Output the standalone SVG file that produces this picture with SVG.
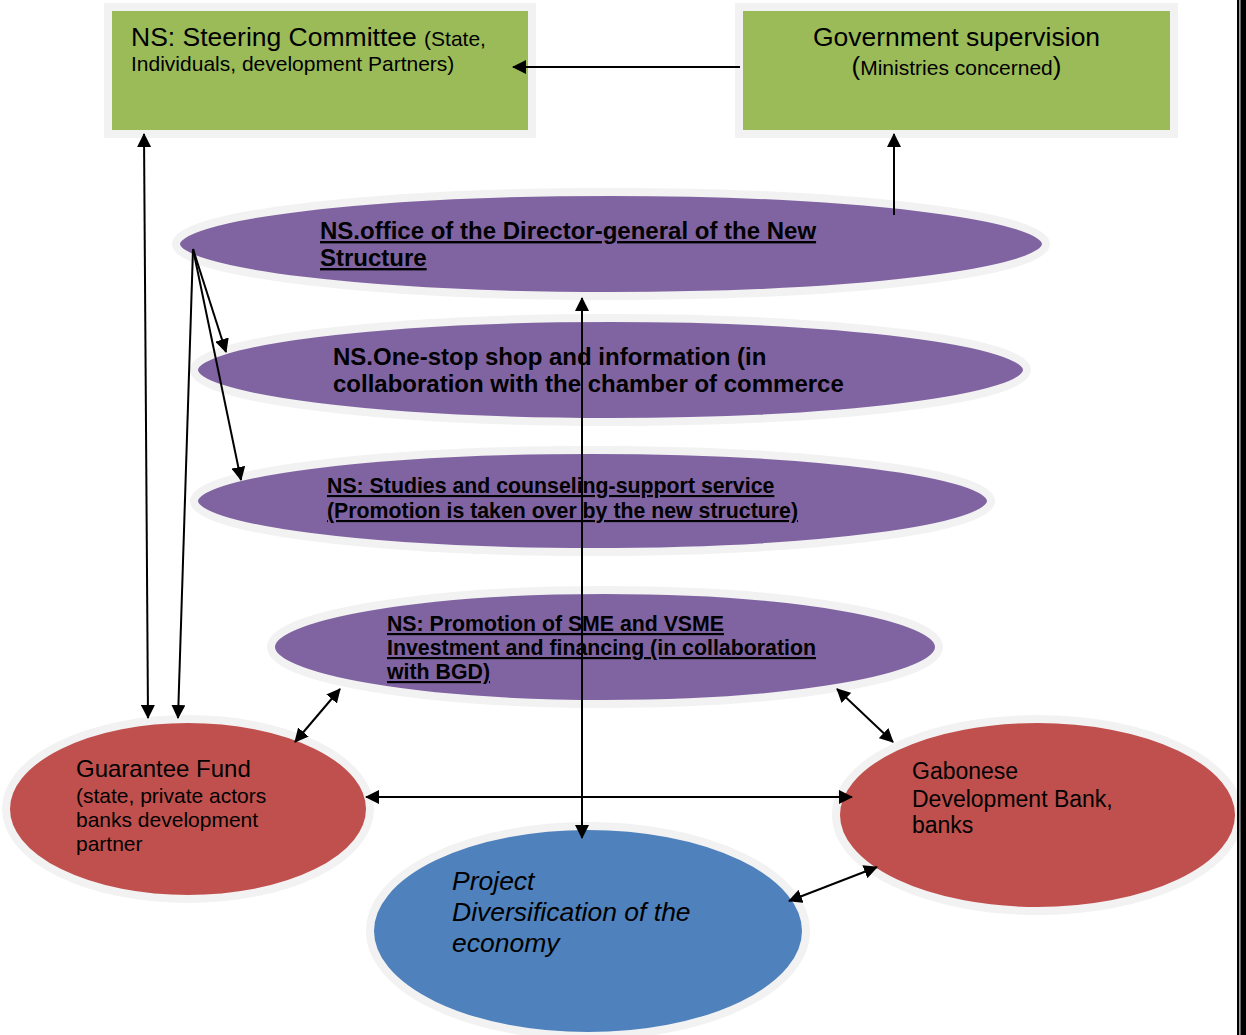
<svg xmlns="http://www.w3.org/2000/svg" width="1246" height="1035" viewBox="0 0 1246 1035">
<style>
.box{fill:#9BBB59;stroke:#F2F2F2;stroke-width:8}
.pur{fill:#8064A2;stroke:#F2F2F2;stroke-width:8}
.red{fill:#C0504D;stroke:#F2F2F2;stroke-width:8}
.blu{fill:#4F81BD;stroke:#F2F2F2;stroke-width:8}
text{font-family:"Liberation Sans",Arial,sans-serif;fill:#000}
.b{font-weight:bold}
.u{text-decoration:underline}
.c line{stroke:#000;stroke-width:2}
</style>
<defs>
<marker id="ah" viewBox="0 0 14 14" refX="13" refY="7" markerWidth="14" markerHeight="14" markerUnits="userSpaceOnUse" orient="auto-start-reverse">
<path d="M0,0 L14,7 L0,14 z" fill="#000"/>
</marker>
</defs>
<rect width="1246" height="1035" fill="#fff"/>
<g id="steering">
<rect class="box" x="108" y="7" width="424" height="127"/>
<text x="131" y="46" font-size="26.5">NS: Steering Committee <tspan font-size="21">(State,</tspan></text>
<text x="131" y="71" font-size="21">Individuals, development Partners)</text>
</g>
<g id="government">
<rect class="box" x="739" y="7" width="435" height="127"/>
<text x="956.5" y="46" font-size="26.5" text-anchor="middle">Government supervision</text>
<text x="956.5" y="75" font-size="21" text-anchor="middle"><tspan font-size="26">(</tspan>Ministries concerned<tspan font-size="26">)</tspan></text>
</g>
<g id="director">
<ellipse class="pur" cx="611" cy="244" rx="435" ry="52"/>
<text class="b u" x="320" y="239" font-size="24">NS.office of the Director-general of the New</text>
<text class="b u" x="320" y="266" font-size="24">Structure</text>
</g>
<g id="onestop">
<ellipse class="pur" cx="610.5" cy="370" rx="416.5" ry="52"/>
<text class="b" x="333" y="365" font-size="24">NS.One-stop shop and information (in</text>
<text class="b" x="333" y="392" font-size="24">collaboration with the chamber of commerce</text>
</g>
<g id="studies">
<ellipse class="pur" cx="592.5" cy="501" rx="398.5" ry="51"/>
<text class="b u" x="327" y="493" font-size="21.3">NS: Studies and counseling-support service</text>
<text class="b u" x="327" y="518" font-size="21.3">(Promotion is taken over by the new structure)</text>
</g>
<g id="promotion">
<ellipse class="pur" cx="605" cy="647" rx="334" ry="57"/>
<text class="b u" x="387" y="631" font-size="22" textLength="337" lengthAdjust="spacingAndGlyphs">NS: Promotion of SME and VSME</text>
<text class="b u" x="387" y="655" font-size="22" textLength="429" lengthAdjust="spacingAndGlyphs">Investment and financing (in collaboration</text>
<text class="b u" x="387" y="679" font-size="22" textLength="103" lengthAdjust="spacingAndGlyphs">with BGD)</text>
</g>
<g id="guarantee">
<ellipse class="red" cx="188" cy="809" rx="182" ry="90"/>
<text x="76" y="777" font-size="24">Guarantee Fund</text>
<text x="76" y="803" font-size="21">(state, private actors</text>
<text x="76" y="827" font-size="21">banks development</text>
<text x="76" y="851" font-size="21">partner</text>
</g>
<g id="gabonese">
<ellipse class="red" cx="1037.5" cy="815" rx="201.5" ry="96"/>
<text x="912" y="779" font-size="23">Gabonese</text>
<text x="912" y="807" font-size="23">Development Bank,</text>
<text x="912" y="833" font-size="23">banks</text>
</g>
<g id="project">
<ellipse class="blu" cx="588" cy="931" rx="218" ry="105"/>
<text x="452" y="890" font-size="26.5" font-style="italic">Project</text>
<text x="452" y="921" font-size="26.5" font-style="italic">Diversification of the</text>
<text x="452" y="952" font-size="26.5" font-style="italic">economy</text>
</g>
<g id="connectors" class="c">
<line x1="740" y1="67" x2="513" y2="67" marker-end="url(#ah)"/>
<line x1="894" y1="215" x2="894" y2="134" marker-end="url(#ah)"/>
<line x1="144" y1="134" x2="148" y2="718" marker-start="url(#ah)" marker-end="url(#ah)"/>
<line x1="193" y1="249" x2="178" y2="718" marker-end="url(#ah)"/>
<line x1="193" y1="249" x2="226" y2="352" marker-end="url(#ah)"/>
<line x1="193" y1="249" x2="241" y2="480" marker-end="url(#ah)"/>
<line x1="582" y1="298" x2="582" y2="838" marker-start="url(#ah)" marker-end="url(#ah)"/>
<line x1="366" y1="797" x2="852" y2="797" marker-start="url(#ah)" marker-end="url(#ah)"/>
<line x1="295" y1="742" x2="340" y2="689" marker-start="url(#ah)" marker-end="url(#ah)"/>
<line x1="837" y1="689" x2="893" y2="742" marker-start="url(#ah)" marker-end="url(#ah)"/>
<line x1="789" y1="901" x2="877" y2="867" marker-start="url(#ah)" marker-end="url(#ah)"/>
</g>
<rect x="1237" y="0" width="2.4" height="1035" fill="#000"/>
<rect x="1240.4" y="0" width="5.6" height="1035" fill="#000"/>
</svg>
